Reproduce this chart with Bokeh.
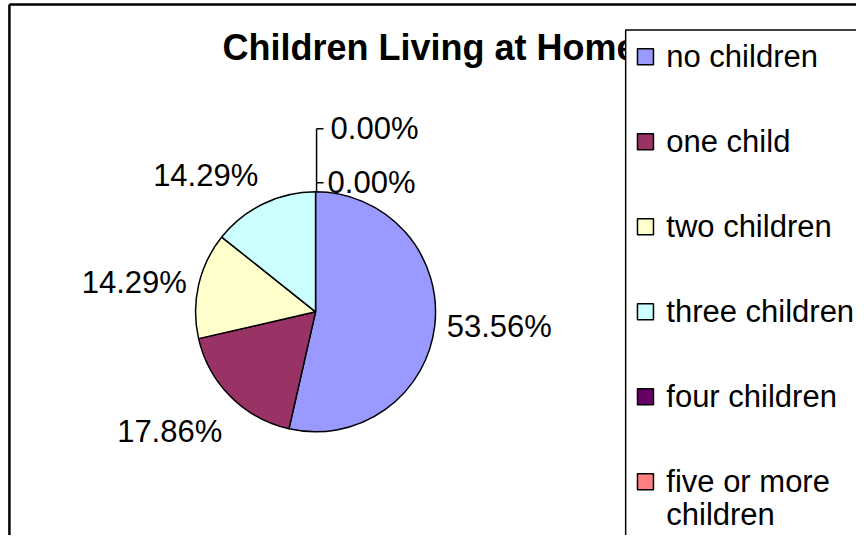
import math
from bokeh.plotting import figure
from bokeh.models import Range1d
from bokeh.core.properties import value
from bokeh.embed import file_html
from bokeh.resources import INLINE

# ---- data ----
title = "Children Living at Home"
categories = ["no children", "one child", "two children", "three children",
              "four children", "five or more children"]
legend_labels = ["no children", "one child", "two children", "three children",
                 "four children", "five or more\nchildren"]
percentages = [53.56, 17.86, 14.29, 14.29, 0.00, 0.00]
colors = ["#9999FF", "#993366", "#FFFFCC", "#CCFFFF", "#660066", "#FF8080"]

# ---- layout helpers (reference pixel -> data coords) ----
W, H = 856, 535
KX, KY = W / 864, H / 543
def px(x):
    return x * KX
def py(y):
    return H - y * KY

FONT = value("Liberation Sans")
LABEL_SIZE = "31px"

p = figure(width=W, height=H, x_range=Range1d(0, W), y_range=Range1d(0, H),
           output_backend="svg", toolbar_location=None, min_border=0)
p.axis.visible = False
p.grid.visible = False
p.outline_line_color = None
p.background_fill_color = "white"
p.border_fill_color = "white"

# outer chart frame (left and top edges visible)
p.segment(x0=[px(9), px(9)], y0=[py(4), py(4)], x1=[px(9), W + 10], y1=[-10, py(4)],
          line_color="black", line_width=2.5)

# title
p.text(x=[px(224)], y=[py(48)], text=[title], text_font=FONT, text_font_style="bold",
       text_font_size="36px", text_align="left", text_baseline="middle", text_color="black")

# ---- pie ----
cx, cy, r = px(318), py(316), 120
total = sum(percentages)
cum = 0.0
ws, we, wc = [], [], []
lx, ly, lt, la, lb = [], [], [], [], []
zero_labels = []
gap = 12
for v, c in zip(percentages, colors):
    phi1 = 2 * math.pi * cum / total
    phi2 = 2 * math.pi * (cum + v) / total
    cum += v
    if v <= 0:
        zero_labels.append(f"{v:.2f}%")
        continue
    ws.append(math.pi / 2 - phi1)
    we.append(math.pi / 2 - phi2)
    wc.append(c)
    mid = (phi1 + phi2) / 2
    s, co = math.sin(mid), math.cos(mid)
    align = "left" if s > 0.1 else ("right" if s < -0.1 else "center")
    base = "bottom" if co > 0.5 else ("top" if co < -0.5 else "middle")
    lx.append(cx + (r + gap) * s)
    ly.append(cy + (r + gap) * co - (9 if base == "top" else 0))
    lt.append(f"{v:.2f}%")
    la.append(align)
    lb.append(base)

p.wedge(x=cx, y=cy, radius=r, start_angle=ws, end_angle=we, direction="clock",
        fill_color=wc, line_color="black", line_width=1.5)

for x, y, t, a, b in zip(lx, ly, lt, la, lb):
    p.text(x=[x], y=[y], text=[t], text_font=FONT, text_font_size=LABEL_SIZE,
           text_align=a, text_baseline=b, text_color="black")

# zero-value labels stacked above the pie top with a leader line
if zero_labels:
    top_y = cy + r
    lead_x = cx + 1
    ys = [top_y + 9 + 54 * k for k in range(len(zero_labels))]
    p.segment(x0=[lead_x], y0=[top_y], x1=[lead_x], y1=[ys[-1]], line_color="black", line_width=1.5)
    p.segment(x0=[lead_x] * len(ys), y0=ys, x1=[lead_x + 7] * len(ys), y1=ys,
              line_color="black", line_width=1.5)
    for k, (t, y) in enumerate(zip(zero_labels, ys)):
        p.text(x=[lead_x + 11 + 3 * k], y=[y], text=[t], text_font=FONT,
               text_font_size=LABEL_SIZE, text_align="left", text_baseline="middle",
               text_color="black")

# ---- legend ----
p.quad(left=[px(631)], right=[W + 20], top=[py(30)], bottom=[-20],
       fill_color="white", line_color="black", line_width=1.5)
leg_y = [py(57 + 86.3 * i) for i in range(len(categories))]
p.scatter(x=[px(651)] * len(categories), y=leg_y, marker="square", size=16,
          fill_color=colors, line_color="black", line_width=1.5)
for y, lab in zip(leg_y, legend_labels):
    for j, line in enumerate(lab.split("\n")):
        p.text(x=[px(672)], y=[y - 33 * j], text=[line], text_font=FONT,
               text_font_size=LABEL_SIZE, text_align="left", text_baseline="middle",
               text_color="black")

open("out.html", "w").write(file_html(p, INLINE))
